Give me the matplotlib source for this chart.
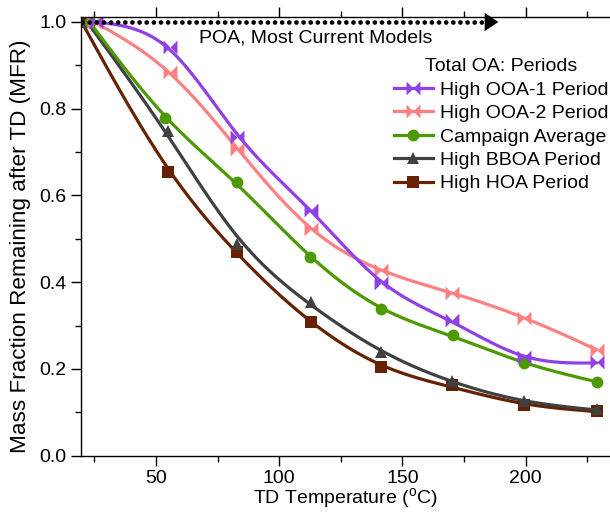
import numpy as np
import matplotlib
matplotlib.use("Agg")
import matplotlib.pyplot as plt
from matplotlib.ticker import MultipleLocator

plt.rcParams['font.family'] = ['Liberation Sans', 'DejaVu Sans']
plt.rcParams['mathtext.fontset'] = 'custom'
plt.rcParams['mathtext.rm'] = 'Liberation Sans'
plt.rcParams['font.size'] = 14

# TD temperatures (deg C) and mass fraction remaining for each period
temp_ooa1 = [25.5, 55.5, 83, 113, 141.5, 170, 199.5, 229]
mfr_ooa1 = [1.0, 0.943, 0.735, 0.567, 0.398, 0.312, 0.227, 0.215]

temp_ooa2 = [25, 55.5, 83, 113, 141.5, 170, 199.5, 229]
mfr_ooa2 = [1.0, 0.885, 0.708, 0.522, 0.428, 0.376, 0.318, 0.244]

temp_avg = [23, 53.5, 83, 112.5, 141.5, 170.5, 199.5, 229]
mfr_avg = [1.0, 0.779, 0.630, 0.459, 0.338, 0.278, 0.213, 0.171]

temp_bboa = [22, 55, 83, 113, 141.5, 170, 199.5, 229]
mfr_bboa = [1.0, 0.749, 0.488, 0.355, 0.240, 0.173, 0.125, 0.107]

temp_hoa = [19.8, 55, 83, 113, 141.5, 170, 199.5, 229]
mfr_hoa = [1.0, 0.654, 0.470, 0.309, 0.205, 0.163, 0.117, 0.103]

labels = ["High OOA-1 Period", "High OOA-2 Period", "Campaign Average",
          "High BBOA Period", "High HOA Period"]

# POA reference line (no evaporation) with arrow
poa_x = [20, 184]
poa_y = [1.0, 1.0]
poa_arrow_end = 189


def smooth(x, y, lam=1500.0, n=300):
    # cubic smoothing spline (Reinsch), first point held fixed
    x = np.asarray(x, float)
    y = np.asarray(y, float)
    m = len(x)
    h = np.diff(x)
    Q = np.zeros((m, m - 2))
    R = np.zeros((m - 2, m - 2))
    for j in range(m - 2):
        i = j + 1
        Q[i - 1, j] = 1 / h[i - 1]
        Q[i, j] = -1 / h[i - 1] - 1 / h[i]
        Q[i + 1, j] = 1 / h[i]
        R[j, j] = (h[i - 1] + h[i]) / 3
        if j < m - 3:
            R[j, j + 1] = R[j + 1, j] = h[i] / 6
    w = np.ones(m)
    w[0] = 50.0
    Winv = np.diag(1 / w)
    g = np.linalg.solve(R + lam * Q.T @ Winv @ Q, Q.T @ y)
    f = y - lam * Winv @ Q @ g
    M = np.concatenate([[0], g, [0]])
    xs = np.linspace(x[0], x[-1], n)
    k = np.clip(np.searchsorted(x, xs) - 1, 0, m - 2)
    t0 = x[k + 1] - xs
    t1 = xs - x[k]
    hk = h[k]
    ys = (M[k] * t0**3 / (6 * hk) + M[k + 1] * t1**3 / (6 * hk)
          + (f[k] / hk - M[k] * hk / 6) * t0
          + (f[k + 1] / hk - M[k + 1] * hk / 6) * t1)
    return xs, ys


bowtie = [(-1, -1), (1, 1), (1, -1), (-1, 1), (-1, -1)]

# data, colour, marker, marker size, label, smoothing
series = [
    (temp_hoa, mfr_hoa, "#662200", "s", 8.5, labels[4], 1200),
    (temp_bboa, mfr_bboa, "#404040", "^", 8.5, labels[3], 1500),
    (temp_avg, mfr_avg, "#4C9900", "o", 8.5, labels[2], 600),
    (temp_ooa2, mfr_ooa2, "#FF8080", bowtie, 10, labels[1], 300),
    (temp_ooa1, mfr_ooa1, "#9140E6", bowtie, 10, labels[0], 250),
]

fig = plt.figure(figsize=(6.1, 5.14), dpi=100)
ax = fig.add_axes([0.1323, 0.1134, 0.8677, 0.8526])

handles = {}
for x, y, c, mk, ms, lab, lam in series:
    xs, ys = smooth(x, y, lam)
    ax.plot(xs, ys, color=c, lw=2.3, solid_capstyle='round')
    ax.plot(x, y, linestyle='none', marker=mk, color=c, ms=ms, mew=0)
    handles[lab], = ax.plot([], [], color=c, lw=2.3, marker=mk, ms=ms, mew=0)

ax.plot(poa_x, poa_y, color='black', lw=3.4, linestyle=(0, (0.01, 1.5)),
        dash_capstyle='round', zorder=5)
ax.annotate('', xy=(poa_arrow_end, poa_y[1]), xytext=(poa_x[1], poa_y[1]),
            arrowprops=dict(arrowstyle='-|>,head_length=0.45,head_width=0.3',
                            color='black', lw=0, mutation_scale=22,
                            shrinkA=0, shrinkB=0),
            zorder=5)
ax.text(67.5, 0.963, "POA, Most Current Models", ha='left', va='center',
        fontsize=14)

leg = ax.legend([handles[l] for l in labels], labels, title="Total OA: Periods",
                loc='upper right', bbox_to_anchor=(0.998, 0.907), frameon=False,
                fontsize=14, title_fontsize=14, handlelength=2.0,
                handletextpad=0.4, labelspacing=0.3, borderpad=0,
                borderaxespad=0)

ax.set_xlim(19.4, 234.3)
ax.set_ylim(0, 1.0104)
ax.xaxis.set_major_locator(MultipleLocator(50))
ax.xaxis.set_minor_locator(MultipleLocator(25))
ax.yaxis.set_major_locator(MultipleLocator(0.2))
ax.yaxis.set_minor_locator(MultipleLocator(0.1))
ax.yaxis.set_major_formatter(matplotlib.ticker.FormatStrFormatter('%.1f'))
ax.tick_params(which='both', direction='out', top=True, right=False, width=1)
ax.tick_params(which='major', length=7, pad=3)
ax.tick_params(which='minor', length=4)
ax.spines['right'].set_visible(False)
for s in ['left', 'bottom', 'top']:
    ax.spines[s].set_linewidth(1)

ax.set_xlabel(r"TD Temperature ($^{\mathrm{o}}$C)", labelpad=0)
ax.set_ylabel("Mass Fraction Remaining after TD (MFR)", fontsize=16.2)
ax.yaxis.set_label_coords(-0.094, 0.479)

fig.savefig("out.png", dpi=100)
